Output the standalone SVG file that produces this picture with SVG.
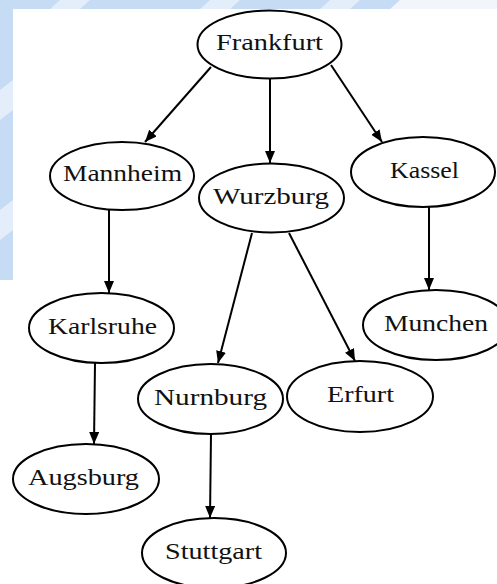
<svg xmlns="http://www.w3.org/2000/svg" width="497" height="584" viewBox="0 0 497 584">
  <defs>
    <marker id="arrow" viewBox="0 0 12 10" refX="12" refY="5" markerWidth="12" markerHeight="10" markerUnits="userSpaceOnUse" orient="auto">
      <path d="M0,0 L12,5 L0,10 Z" fill="#000"/>
    </marker>
  </defs>
  <style>
    .node ellipse { fill: #fff; stroke: #000; stroke-width: 2; }
    .node text { font-family: "Liberation Serif", "DejaVu Serif", serif; font-size: 24px; fill: #111; text-anchor: middle; }
    .edge { stroke: #000; stroke-width: 2; fill: none; marker-end: url(#arrow); }
  </style>
  <rect x="0" y="0" width="497" height="584" fill="#fff"/>
  <g id="background">
    <rect x="0" y="0" width="497" height="9" fill="#c6dbf4"/>
    <rect x="0" y="0" width="13" height="280" fill="#c6dbf4"/>
    <polygon points="60,0 90,0 80,9 50,9" fill="#e4eefa"/>
    <polygon points="210,0 240,0 230,9 200,9" fill="#e4eefa"/>
    <polygon points="330,0 360,0 350,9 320,9" fill="#e4eefa"/>
    <polygon points="400,0 497,0 497,9 390,9" fill="#f2f6fc"/>
    <polygon points="0,90 13,80 13,110 0,120" fill="#e4eefa"/>
    <polygon points="0,210 13,200 13,230 0,240" fill="#e4eefa"/>
  </g>
  <g id="connectors">
    <line class="edge" x1="211" y1="67" x2="145" y2="142"/>
    <line class="edge" x1="270" y1="79" x2="270" y2="163"/>
    <line class="edge" x1="331" y1="65" x2="382" y2="142"/>
    <line class="edge" x1="109" y1="210" x2="109" y2="293"/>
    <line class="edge" x1="429" y1="207" x2="429" y2="290"/>
    <line class="edge" x1="252" y1="233" x2="218" y2="363"/>
    <line class="edge" x1="289" y1="233" x2="355" y2="361"/>
    <line class="edge" x1="95" y1="363" x2="94" y2="444"/>
    <line class="edge" x1="211" y1="434" x2="210" y2="518"/>
  </g>
  <g id="Frankfurt" class="node"><ellipse cx="269.5" cy="44.5" rx="72" ry="34"/><text x="269.5" y="50" textLength="107" lengthAdjust="spacingAndGlyphs">Frankfurt</text></g>
  <g id="Mannheim" class="node"><ellipse cx="122" cy="176" rx="72" ry="34"/><text x="122.5" y="181" textLength="119" lengthAdjust="spacingAndGlyphs">Mannheim</text></g>
  <g id="Wurzburg" class="node"><ellipse cx="271.5" cy="198" rx="72.5" ry="34.5"/><text x="271" y="203.5" textLength="116" lengthAdjust="spacingAndGlyphs">Wurzburg</text></g>
  <g id="Kassel" class="node"><ellipse cx="423" cy="172" rx="72" ry="35"/><text x="424.5" y="178" textLength="69" lengthAdjust="spacingAndGlyphs">Kassel</text></g>
  <g id="Karlsruhe" class="node"><ellipse cx="101.5" cy="328" rx="72.5" ry="35"/><text x="102.5" y="333.5" textLength="109" lengthAdjust="spacingAndGlyphs">Karlsruhe</text></g>
  <g id="Munchen" class="node"><ellipse cx="436" cy="325" rx="73" ry="35"/><text x="436" y="331" textLength="104" lengthAdjust="spacingAndGlyphs">Munchen</text></g>
  <g id="Nurnburg" class="node"><ellipse cx="210.5" cy="399" rx="72.5" ry="35"/><text x="210.5" y="404.5" textLength="113" lengthAdjust="spacingAndGlyphs">Nurnburg</text></g>
  <g id="Erfurt" class="node"><ellipse cx="360" cy="396.5" rx="73" ry="35.5"/><text x="360.5" y="402" textLength="67" lengthAdjust="spacingAndGlyphs">Erfurt</text></g>
  <g id="Augsburg" class="node"><ellipse cx="86" cy="479" rx="73" ry="35"/><text x="83.5" y="484.5" textLength="111" lengthAdjust="spacingAndGlyphs">Augsburg</text></g>
  <g id="Stuttgart" class="node"><ellipse cx="214" cy="553" rx="72" ry="35"/><text x="213.5" y="558.5" textLength="97" lengthAdjust="spacingAndGlyphs">Stuttgart</text></g>
</svg>
